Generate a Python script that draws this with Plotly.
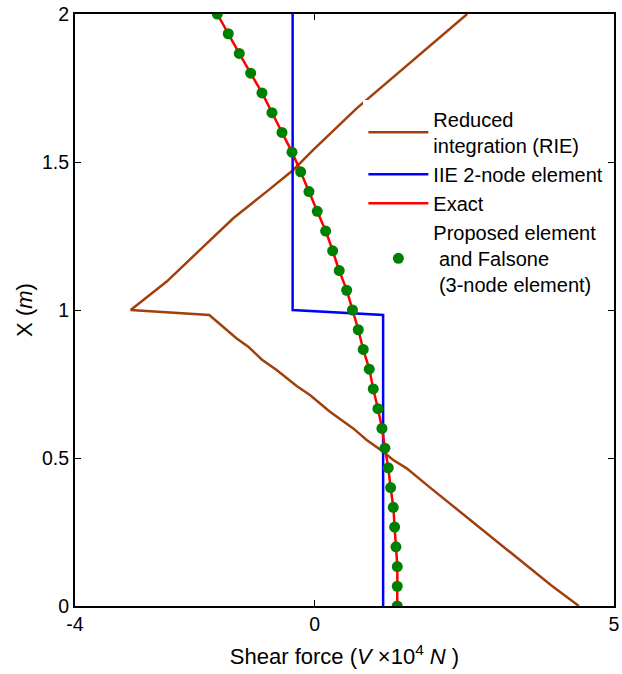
import plotly.graph_objects as go

# Positions along beam X (m) for the 31 nodes (top to bottom)
x_nodes = [2.0, 1.9333, 1.8667, 1.8, 1.7333, 1.6667, 1.6, 1.5333, 1.4667, 1.4,
           1.3333, 1.2667, 1.2, 1.1333, 1.0667, 1.0, 0.9333, 0.8667, 0.8, 0.7333,
           0.6667, 0.6, 0.5333, 0.4667, 0.4, 0.3333, 0.2667, 0.2, 0.1333, 0.0667, 0.0]

exact_v = [-1.624, -1.441, -1.257, -1.067, -0.878, -0.711, -0.544, -0.377, -0.232, -0.093,
           0.045, 0.185, 0.302, 0.412, 0.536, 0.633, 0.730, 0.813, 0.913, 0.980,
           1.058, 1.125, 1.175, 1.230, 1.270, 1.314, 1.337, 1.359, 1.381, 1.381, 1.381]

proposed_v = [-1.624, -1.441, -1.257, -1.067, -0.878, -0.711, -0.544, -0.377, -0.232, -0.093,
              0.045, 0.185, 0.302, 0.412, 0.536, 0.633, 0.730, 0.813, 0.913, 0.980,
              1.058, 1.125, 1.175, 1.230, 1.270, 1.314, 1.337, 1.359, 1.381, 1.381, 1.381]

iie_x = [2.0, 1.0, 0.983, 0.0]
iie_v = [-0.366, -0.366, 1.145, 1.145]

rie_x = [2.0, 1.940, 1.901, 1.845, 1.777, 1.681, 1.541, 1.473, 1.400, 1.310, 1.203, 1.096, 1.0,
         0.983, 0.904, 0.876, 0.833, 0.797, 0.743, 0.713, 0.656, 0.623, 0.600, 0.561, 0.521,
         0.493, 0.465, 0.40, 0.33, 0.27, 0.20, 0.13, 0.07, 0.0]
rie_v = [2.549, 2.205, 1.982, 1.648, 1.259, 0.703, -0.022, -0.356, -0.800, -1.357, -1.913, -2.469, -3.070,
         -1.758, -1.300, -1.107, -0.883, -0.633, -0.299, -0.077, 0.257, 0.479, 0.646, 0.870, 1.147,
         1.314, 1.538, 1.93, 2.36, 2.73, 3.16, 3.58, 3.95, 4.413]

FONT = "Liberation Sans, Arial, sans-serif"

fig = go.Figure()
fig.add_trace(go.Scatter(x=rie_v, y=rie_x, mode="lines", name="Reduced<br>integration (RIE)",
                         line=dict(color="#A0410D", width=2.5)))
fig.add_trace(go.Scatter(x=iie_v, y=iie_x, mode="lines", name="IIE 2-node element",
                         line=dict(color="#0000FF", width=2.5)))
fig.add_trace(go.Scatter(x=exact_v, y=x_nodes, mode="lines", name="Exact",
                         line=dict(color="#FF0000", width=2.5, shape="spline")))
fig.add_trace(go.Scatter(x=proposed_v, y=x_nodes, mode="markers",
                         name="Proposed element<br> and Falsone<br> (3-node element)",
                         marker=dict(color="#008000", size=11)))

axis_common = dict(showline=True, linecolor="black", linewidth=2, mirror="ticks",
                   ticks="inside", ticklen=6, tickcolor="black", showgrid=False, zeroline=False,
                   automargin=False, ticklabeloverflow="allow",
                   tickfont=dict(family=FONT, size=19.5, color="black"))

fig.update_xaxes(range=[-4, 5], tickvals=[-4, 0, 5], ticktext=["-4", "0", "5"],
                 title=dict(text="Shear force (<i>V</i> ×10<sup>4</sup> <i>N</i> )",
                            font=dict(family=FONT, size=22, color="black"), standoff=14),
                 **axis_common)
fig.update_yaxes(range=[0, 2], tickvals=[0, 0.5, 1, 1.5, 2], ticktext=["0", "0.5", "1", "1.5", "2"],
                 title=dict(text="X (<i>m</i>)", font=dict(family=FONT, size=22, color="black"),
                            standoff=3),
                 **axis_common)

fig.update_layout(
    width=622, height=674,
    margin=dict(l=75, r=8, t=14, b=68),
    plot_bgcolor="white", paper_bgcolor="white",
    font=dict(family=FONT, size=20, color="black"),
    legend=dict(x=0.535, y=0.855, xanchor="left", yanchor="top", bgcolor="white",
                borderwidth=0, font=dict(family=FONT, size=20, color="black"),
                tracegroupgap=0, itemwidth=60),
    showlegend=True,
)

# remove the default page margin so the figure fills the window exactly
fig.write_html("out.html", config={"displayModeBar": False},
               post_script="document.body.style.margin='0';document.body.style.overflow='hidden';")
